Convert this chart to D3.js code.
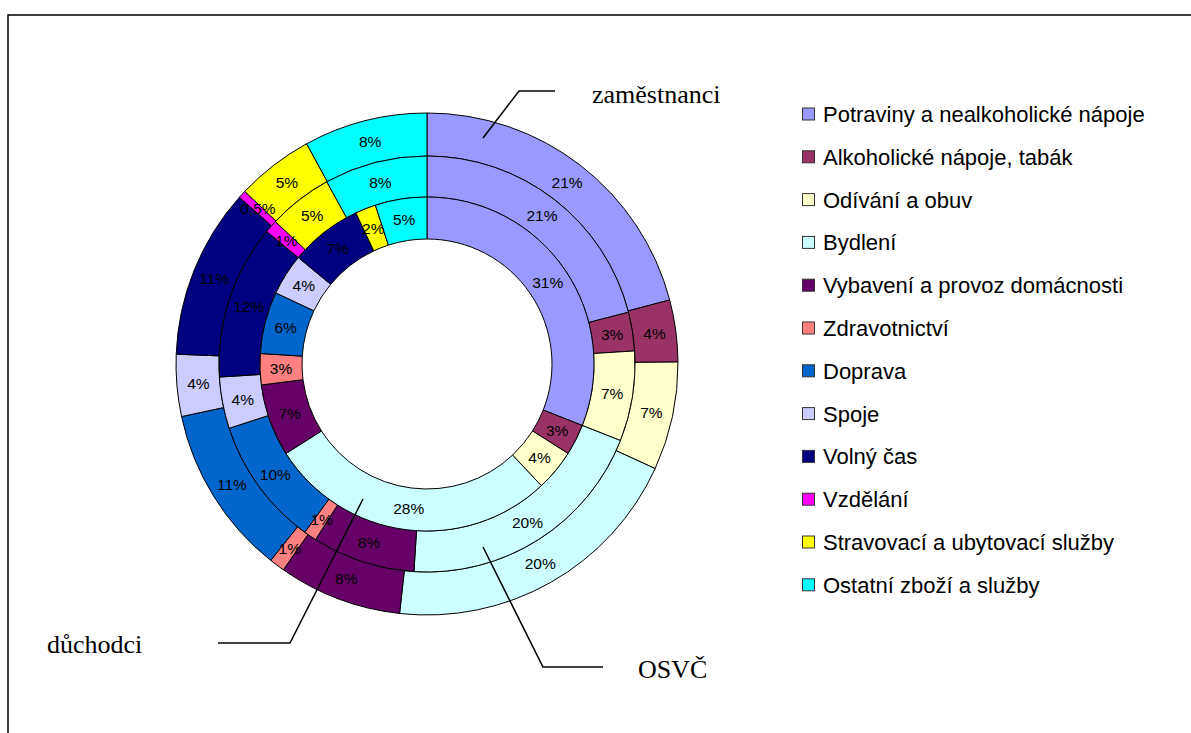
<!DOCTYPE html>
<html><head><meta charset="utf-8">
<script src="https://cdn.jsdelivr.net/npm/d3@7"></script>
<style>body{margin:0;background:#fff}</style>
</head><body><svg id="c" width="1191" height="733"></svg>
<script>
const categories = ["Potraviny a nealkoholické nápoje","Alkoholické nápoje, tabák","Odívání a obuv","Bydlení","Vybavení a provoz domácnosti","Zdravotnictví","Doprava","Spoje","Volný čas","Vzdělání","Stravovací a ubytovací služby","Ostatní zboží a služby"];
const colors = ["#9999FF","#993366","#FFFFCC","#CCFFFF","#660066","#FF8080","#0066CC","#CCCCFF","#000080","#FF00FF","#FFFF00","#00FFFF"];
const zamestnanci = [21,4,7,20,8,1,11,4,11,0.5,5,8];
const osvc = [21,3,7,20,8,1,10,4,12,1,5,8];
const duchodci = [31,3,4,28,7,3,6,4,7,0,2,5];
const seriesNames = ["zaměstnanci","OSVČ","důchodci"];

const svg = d3.select("#c");
const cx = 427, cy = 364;
const radii = [[208,251],[167,208],[125,167]];
const series = [zamestnanci, osvc, duchodci];

svg.append("rect").attr("x",8).attr("y",15).attr("width",1400).attr("height",900)
  .attr("fill","none").attr("stroke","#000").attr("stroke-width",1.5);

const pie = d3.pie().sort(null).value(d=>d);
const g = svg.append("g").attr("transform",`translate(${cx},${cy})`);
const fmt = v => String(v).replace(".", ",") + "%";

series.forEach((vals,si)=>{
  const arc = d3.arc().innerRadius(radii[si][0]).outerRadius(radii[si][1]);
  const arcs = pie(vals);
  const ring = g.append("g");
  ring.selectAll("path").data(arcs).join("path")
    .attr("d",arc).attr("fill",(d,i)=>colors[i])
    .attr("stroke","#000").attr("stroke-width",1);
  ring.selectAll("text").data(arcs.filter(d=>d.data>0)).join("text")
    .attr("transform",d=>`translate(${arc.centroid(d)})`)
    .attr("text-anchor","middle").attr("dy","0.36em")
    .attr("font-family","Liberation Sans, Arial, sans-serif").attr("font-size",15.5)
    .attr("fill","#000").text(d=>fmt(d.data));
});

// series name callouts
const callouts = [
  {name:seriesNames[0], pts:[[56,-226],[92,-273],[128,-273]], tx:592, ty:103},
  {name:seriesNames[1], pts:[[56,183],[116,303],[176,303]], tx:638, ty:678},
  {name:seriesNames[2], pts:[[-64,135],[-137,279],[-209,279]], tx:47, ty:653}
];
callouts.forEach(c=>{
  g.append("path").attr("d",d3.line()(c.pts)).attr("fill","none")
    .attr("stroke","#000").attr("stroke-width",1.5);
  svg.append("text").attr("x",c.tx).attr("y",c.ty)
    .attr("font-family","Liberation Serif, Times New Roman, serif").attr("font-size",26)
    .attr("fill","#000").text(c.name);
});

// legend
const lg = svg.append("g");
const rowY = i => 114.5 + i*42.8;
categories.forEach((c,i)=>{
  lg.append("rect").attr("x",802.5).attr("y",rowY(i)-6.5).attr("width",12).attr("height",12)
    .attr("fill",colors[i]).attr("stroke","#333").attr("stroke-width",1);
  lg.append("text").attr("x",823).attr("y",rowY(i)+7.5)
    .attr("font-family","Liberation Sans, Arial, sans-serif").attr("font-size",22)
    .attr("fill","#000").text(c);
});
</script></body></html>
